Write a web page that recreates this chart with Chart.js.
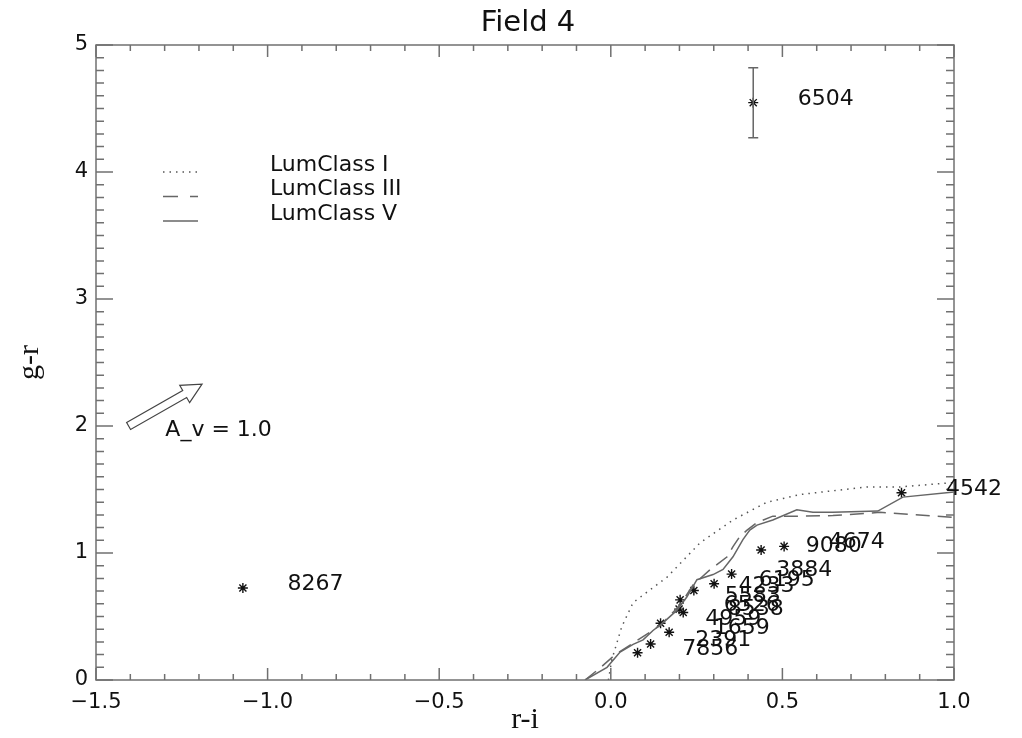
<!DOCTYPE html>
<html>
<head>
<meta charset="utf-8">
<title>Field 4</title>
<script src="https://cdn.jsdelivr.net/npm/chart.js@4.4.1/dist/chart.umd.min.js"></script>
<style>
    html, body { margin: 0; padding: 0; background: #fff; }
    #wrap { position: relative; width: 1022px; height: 738px; }
</style>
</head>
<body>
<div id="wrap"><canvas id="ccd"></canvas></div>
<script>
        const starIds = ['7856', '2391', '1659', '4959', '8538', '6526', '5583', '4233', '6195', '3884', '9080', '4674', '4542', '6504', '8267'];
        const starRI  = [0.078, 0.116, 0.170, 0.145, 0.211, 0.199, 0.202, 0.242, 0.301, 0.352, 0.438, 0.505, 0.847, 0.415, -1.072];
        const starGR  = [0.215, 0.284, 0.376, 0.447, 0.531, 0.558, 0.631, 0.705, 0.758, 0.834, 1.024, 1.052, 1.474, 4.546, 0.724];

        // error bar only shown for 6504
        const errIds  = ['6504'];
        const errLow  = [4.27];
        const errHigh = [4.82];

        // luminosity class loci
        const lumI_x   = [-0.007, 0.003, 0.032, 0.065, 0.164, 0.260, 0.356, 0.455, 0.551, 0.647, 0.746, 0.842, 1.0];
        const lumI_y   = [0.0, 0.16, 0.42, 0.61, 0.81, 1.08, 1.26, 1.40, 1.46, 1.49, 1.52, 1.52, 1.555];
        const lumIII_x = [-0.075, -0.031, 0.013, 0.065, 0.144, 0.202, 0.240, 0.290, 0.339, 0.356, 0.376, 0.397, 0.426, 0.472, 0.551, 0.647, 0.784, 1.0];
        const lumIII_y = [0.0, 0.095, 0.20, 0.29, 0.43, 0.59, 0.75, 0.87, 0.97, 1.05, 1.13, 1.18, 1.24, 1.29, 1.29, 1.295, 1.32, 1.28];
        const lumV_x   = [-0.075, -0.011, 0.027, 0.065, 0.094, 0.123, 0.152, 0.193, 0.222, 0.251, 0.298, 0.327, 0.356, 0.385, 0.405, 0.426, 0.472, 0.542, 0.589, 0.647, 0.778, 0.851, 1.0];
        const lumV_y   = [0.0, 0.10, 0.22, 0.28, 0.316, 0.39, 0.45, 0.55, 0.655, 0.79, 0.83, 0.87, 0.97, 1.105, 1.18, 1.22, 1.26, 1.34, 1.32, 1.32, 1.33, 1.44, 1.48];

        const legendLabels = ['LumClass I', 'LumClass III', 'LumClass V'];

        // reddening vector
        const arrowFrom = [-1.405, 2.0];
        const arrowTo   = [-1.191, 2.33];
        const arrowText = 'A_v = 1.0';
        const arrowTextAt = [-1.298, 1.97];

        const xTicks = [-1.5, -1.0, -0.5, 0.0, 0.5, 1.0];
        const yTicks = [0, 1, 2, 3, 4, 5];

        const pts = (xs, ys) => xs.map((v, i) => ({ x: v, y: ys[i] }));
        const lineStyles = [
            { color: '#555', dash: [1.5, 5] },
            { color: '#666', dash: [14, 8] },
            { color: '#666', dash: [] }
        ];

        const decor = {
            id: 'decor',
            afterDatasetsDraw(chart) {
                const { ctx, chartArea: a, scales: { x, y } } = chart;
                ctx.save();

                // frame
                ctx.strokeStyle = '#707070';
                ctx.lineWidth = 1.5;
                ctx.strokeRect(a.left, a.top, a.right - a.left, a.bottom - a.top);

                // inward ticks on all four sides
                for (let i = 0; i <= 25; i++) {
                    const px = x.getPixelForValue(-1.5 + i * 0.1);
                    const len = i % 5 === 0 ? 12 : 6;
                    ctx.beginPath();
                    ctx.moveTo(px, a.bottom); ctx.lineTo(px, a.bottom - len);
                    ctx.moveTo(px, a.top); ctx.lineTo(px, a.top + len);
                    ctx.stroke();
                }
                for (let i = 0; i <= 50; i++) {
                    const py = y.getPixelForValue(i * 0.1);
                    const len = i % 10 === 0 ? 17 : 8;
                    ctx.beginPath();
                    ctx.moveTo(a.left, py); ctx.lineTo(a.left + len, py);
                    ctx.moveTo(a.right, py); ctx.lineTo(a.right - len, py);
                    ctx.stroke();
                }

                // error bars
                ctx.strokeStyle = '#666';
                ctx.lineWidth = 1.5;
                errIds.forEach((id, k) => {
                    const i = starIds.indexOf(id);
                    const px = x.getPixelForValue(starRI[i]);
                    const lo = y.getPixelForValue(errLow[k]);
                    const hi = y.getPixelForValue(errHigh[k]);
                    ctx.beginPath();
                    ctx.moveTo(px, lo); ctx.lineTo(px, hi);
                    ctx.moveTo(px - 5, lo); ctx.lineTo(px + 5, lo);
                    ctx.moveTo(px - 5, hi); ctx.lineTo(px + 5, hi);
                    ctx.stroke();
                });

                // star ids
                ctx.fillStyle = '#111';
                ctx.font = '22px "DejaVu Sans"';
                ctx.textAlign = 'left';
                ctx.textBaseline = 'alphabetic';
                starIds.forEach((id, i) => {
                    ctx.fillText(id, x.getPixelForValue(starRI[i] + 0.13), y.getPixelForValue(starGR[i]) + 2);
                });

                // legend
                const lx = a.left + 67, ty = a.top + 127;
                lineStyles.forEach((s, i) => {
                    const ly = ty + i * 24.5;
                    ctx.strokeStyle = s.color;
                    ctx.lineWidth = 1.5;
                    ctx.setLineDash(i === 1 ? [15, 12] : s.dash);
                    ctx.beginPath();
                    ctx.moveTo(lx, ly); ctx.lineTo(lx + 35, ly);
                    ctx.stroke();
                    ctx.setLineDash([]);
                    ctx.fillStyle = '#111';
                    ctx.font = '22px "DejaVu Sans"';
                    ctx.textBaseline = 'middle';
                    ctx.fillText(legendLabels[i], a.left + 174, ly - 7);
                });

                // reddening arrow
                const x0 = x.getPixelForValue(arrowFrom[0]), y0 = y.getPixelForValue(arrowFrom[1]);
                const x1 = x.getPixelForValue(arrowTo[0]), y1 = y.getPixelForValue(arrowTo[1]);
                const L = Math.hypot(x1 - x0, y1 - y0);
                const w = 4, h = 10, hl = 20;
                ctx.translate(x0, y0);
                ctx.rotate(Math.atan2(y1 - y0, x1 - x0));
                ctx.beginPath();
                ctx.moveTo(0, -w); ctx.lineTo(L - hl, -w); ctx.lineTo(L - hl, -h);
                ctx.lineTo(L, 0);
                ctx.lineTo(L - hl, h); ctx.lineTo(L - hl, w); ctx.lineTo(0, w);
                ctx.closePath();
                ctx.fillStyle = '#fff';
                ctx.fill();
                ctx.strokeStyle = '#444';
                ctx.lineWidth = 1.2;
                ctx.stroke();
                ctx.setTransform(1, 0, 0, 1, 0, 0);
                ctx.fillStyle = '#111';
                ctx.font = '22px "DejaVu Sans"';
                ctx.textBaseline = 'middle';
                ctx.fillText(arrowText, x.getPixelForValue(arrowTextAt[0]), y.getPixelForValue(arrowTextAt[1]));

                // title
                ctx.font = '29px "DejaVu Sans"';
                ctx.textAlign = 'center';
                ctx.fillText('Field 4', (a.left + a.right) / 2 + 3, 23);

                ctx.restore();
            }
        };

        new Chart(document.getElementById('ccd'), {
            type: 'scatter',
            data: {
                datasets: [
                    { label: legendLabels[0], data: pts(lumI_x, lumI_y), showLine: true, borderColor: lineStyles[0].color, borderDash: lineStyles[0].dash, borderWidth: 1.5, pointRadius: 0, tension: 0 },
                    { label: legendLabels[1], data: pts(lumIII_x, lumIII_y), showLine: true, borderColor: lineStyles[1].color, borderDash: lineStyles[1].dash, borderWidth: 1.5, pointRadius: 0, tension: 0 },
                    { label: legendLabels[2], data: pts(lumV_x, lumV_y), showLine: true, borderColor: lineStyles[2].color, borderWidth: 1.5, pointRadius: 0, tension: 0 },
                    { label: 'stars', data: pts(starRI, starGR), showLine: false, pointStyle: 'star', pointRadius: 5, borderColor: '#111', backgroundColor: '#111', borderWidth: 1.4 }
                ]
            },
            options: {
                responsive: true,
                maintainAspectRatio: false,
                animation: false,
                layout: { padding: { top: 45, right: 68, bottom: 0, left: 0 } },
                plugins: { legend: { display: false }, tooltip: { enabled: false }, title: { display: false } },
                scales: {
                    x: {
                        type: 'linear', min: -1.5, max: 1.0,
                        afterBuildTicks: s => { s.ticks = xTicks.map(v => ({ value: v })); },
                        afterFit: s => { s.height = 58; },
                        grid: { display: false, drawTicks: false },
                        border: { display: false },
                        ticks: {
                            padding: 10, color: '#111', font: { family: 'DejaVu Sans', size: 21 },
                            callback: v => v.toFixed(1).replace('-', '\u2212')
                        },
                        title: { display: true, text: 'r-i', color: '#111', padding: { top: 0, bottom: 0 }, font: { family: 'Liberation Serif', size: 30 } }
                    },
                    y: {
                        type: 'linear', min: 0, max: 5,
                        afterBuildTicks: s => { s.ticks = yTicks.map(v => ({ value: v })); },
                        afterFit: s => { s.width = 96; },
                        grid: { display: false, drawTicks: false },
                        border: { display: false },
                        ticks: { padding: 8, color: '#111', font: { family: 'DejaVu Sans', size: 21 } },
                        title: { display: true, text: 'g-r', color: '#111', padding: { top: 12, bottom: 0 }, font: { family: 'Liberation Serif', size: 30 } }
                    }
                }
            },
            plugins: [decor]
        });
</script>
</body>
</html>
